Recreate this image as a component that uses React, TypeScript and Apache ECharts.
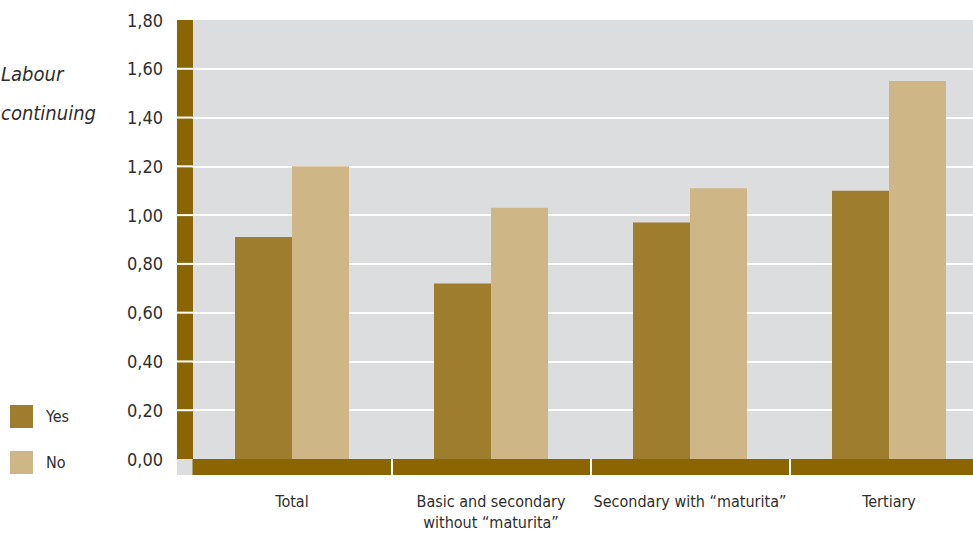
import React, { useEffect, useRef } from "react";
import * as echarts from "echarts";

// Education categories and the two answer groups
const categories = [
  "Total",
  "Basic and secondary\nwithout “maturita”",
  "Secondary with “maturita”",
  "Tertiary",
];
const yesValues = [0.91, 0.72, 0.97, 1.1];
const noValues = [1.2, 1.03, 1.11, 1.55];
const seriesNames = ["Yes", "No"];
const yMin = 0;
const yMax = 1.8;
const yStep = 0.2;

const BROWN = "#8A6501";
const YES_COLOR = "#9E7D2F";
const NO_COLOR = "#CFB686";
const PANEL = "#DCDDDF";
const TEXT = "#2E2E2E";
const FONT = "'DejaVu Sans Condensed', 'Liberation Sans Narrow', sans-serif";

const GRID_LEFT = 192.5;
const GRID_TOP = 20;
const GRID_HEIGHT = 439;
const BAND_X = 177;
const BAND_W = 16;

export default function App() {
  const ref = useRef<HTMLDivElement>(null);

  useEffect(() => {
    if (!ref.current) return;
    const chart = echarts.init(ref.current, undefined, { renderer: "svg" });
    const fmt = (v: number) => v.toFixed(2).replace(".", ",");

    // Brown band beside the value axis, broken by a white gap at each inner tick
    const steps = Math.round((yMax - yMin) / yStep);
    const valueToY = (v: number) =>
      GRID_TOP + GRID_HEIGHT * (1 - (v - yMin) / (yMax - yMin));
    const bandPieces: any[] = [];
    for (let k = 0; k < steps; k++) {
      const top = valueToY(yMin + (k + 1) * yStep) + (k + 1 < steps ? 1 : 0);
      const bottom = valueToY(yMin + k * yStep) - (k > 0 ? 1 : 0);
      bandPieces.push({
        type: "rect",
        z: -5,
        silent: true,
        shape: { x: BAND_X, y: top, width: BAND_W, height: bottom - top },
        style: { fill: BROWN },
      });
    }

    chart.setOption({
      animation: false,
      backgroundColor: "#ffffff",
      grid: {
        left: GRID_LEFT,
        top: GRID_TOP,
        width: 796,
        height: GRID_HEIGHT,
        containLabel: false,
        outerBoundsMode: "none",
      },
      legend: {
        data: seriesNames,
        orient: "vertical",
        left: 5,
        top: 400,
        itemWidth: 23,
        itemHeight: 23,
        itemGap: 23,
        icon: "rect",
        textStyle: { fontSize: 16, color: TEXT, fontFamily: FONT, padding: [0, 0, 0, 8] },
      },
      graphic: [
        {
          type: "rect",
          z: -10,
          silent: true,
          shape: { x: GRID_LEFT, y: GRID_TOP, width: 973 - GRID_LEFT, height: GRID_HEIGHT + 16 },
          style: { fill: PANEL },
        },
        {
          type: "rect",
          z: -10,
          silent: true,
          shape: { x: BAND_X, y: GRID_TOP + GRID_HEIGHT, width: BAND_W, height: 16 },
          style: { fill: PANEL },
        },
        ...bandPieces,
        {
          type: "text",
          silent: true,
          style: {
            text: "Labour",
            x: 1,
            y: 74,
            align: "left",
            verticalAlign: "middle",
            font: `italic 20px ${FONT}`,
            fill: TEXT,
          },
        },
        {
          type: "text",
          silent: true,
          style: {
            text: "continuing",
            x: 1,
            y: 113,
            align: "left",
            verticalAlign: "middle",
            font: `italic 20px ${FONT}`,
            fill: TEXT,
          },
        },
      ],
      xAxis: [
        {
          type: "category",
          data: categories,
          position: "bottom",
          offset: 8,
          axisLine: {
            show: true,
            onZero: false,
            lineStyle: { color: BROWN, width: 16, cap: "butt" },
          },
          axisTick: { show: false },
          axisLabel: {
            margin: 24,
            fontSize: 16,
            lineHeight: 21,
            color: TEXT,
            fontFamily: FONT,
            interval: 0,
          },
          splitLine: { show: false },
        },
        {
          type: "category",
          data: categories,
          position: "bottom",
          offset: 16,
          z: 5,
          axisLine: { show: false, onZero: false },
          axisTick: {
            show: true,
            inside: true,
            length: 16,
            interval: (i: number) => i !== 0,
            lineStyle: { color: "#ffffff", width: 2 },
          },
          axisLabel: { show: false },
          splitLine: { show: false },
        },
      ],
      yAxis: {
        type: "value",
        min: yMin,
        max: yMax,
        interval: yStep,
        position: "left",
        offset: 7.5,
        axisLine: { show: false, onZero: false },
        axisTick: { show: false },
        axisLabel: {
          margin: 22,
          fontSize: 18,
          color: TEXT,
          fontFamily: FONT,
          formatter: fmt,
        },
        splitLine: {
          show: true,
          showMinLine: false,
          showMaxLine: false,
          lineStyle: { color: "#ffffff", width: 2 },
        },
      },
      series: [
        {
          name: seriesNames[0],
          type: "bar",
          data: yesValues,
          barWidth: 57,
          barGap: "0%",
          itemStyle: { color: YES_COLOR },
        },
        {
          name: seriesNames[1],
          type: "bar",
          data: noValues,
          barWidth: 57,
          barGap: "0%",
          itemStyle: { color: NO_COLOR },
        },
      ],
    });

    return () => chart.dispose();
  }, []);

  return (
    <div
      ref={ref}
      style={{ position: "fixed", left: 0, top: 0, width: 973, height: 533 }}
    />
  );
}
